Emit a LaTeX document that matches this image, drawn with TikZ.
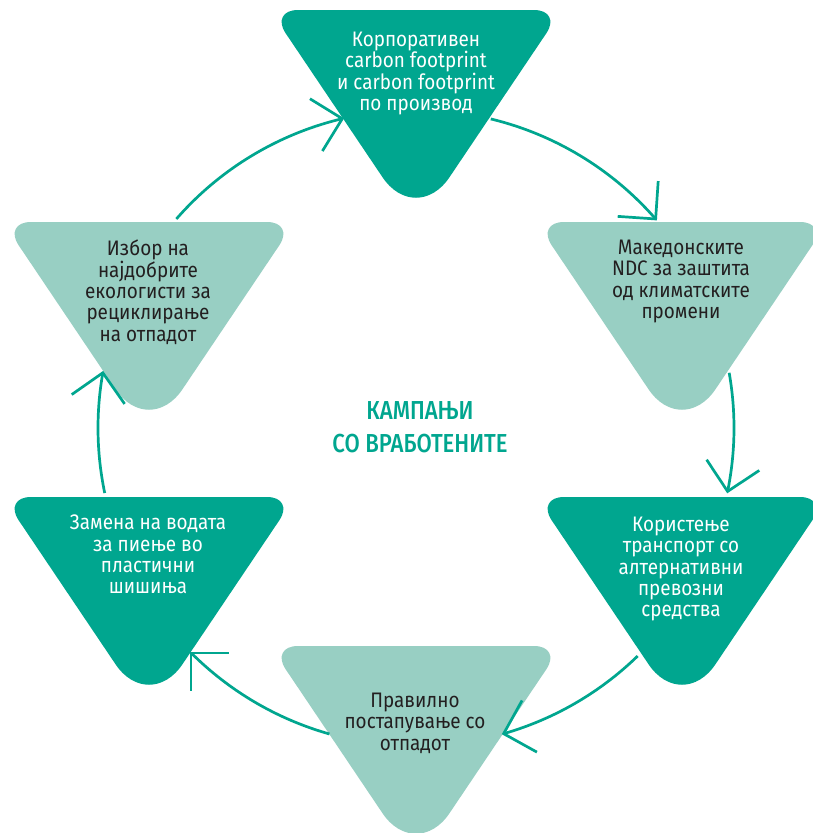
\documentclass[tikz,border=0pt]{standalone}
\usepackage{fontspec}
\setmainfont{Fira Sans}[FakeStretch=0.9]
\newfontfamily\titlefont{Fira Sans Medium}[FakeStretch=0.85]
\usetikzlibrary{calc}
\definecolor{tdark}{HTML}{00A68F}
\definecolor{tlight}{HTML}{98CFC3}
\definecolor{tink}{HTML}{231F20}
\newcommand{\rtri}[4]{%
  \coordinate (#1TL) at (#2-146,#3);
  \coordinate (#1TR) at (#2+146,#3);
  \coordinate (#1B) at (#2,#3+217);
  \coordinate (#1a) at ($(#1TL)!28pt!(#1TR)$);
  \coordinate (#1b) at ($(#1TR)!28pt!(#1TL)$);
  \coordinate (#1c) at ($(#1TR)!28pt!(#1B)$);
  \coordinate (#1d) at ($(#1B)!60pt!(#1TR)$);
  \coordinate (#1e) at ($(#1B)!60pt!(#1TL)$);
  \coordinate (#1f) at ($(#1TL)!28pt!(#1B)$);
  \fill[#4] (#1a) -- (#1b)
    .. controls ($(#1b)!.55!(#1TR)$) and ($(#1c)!.55!(#1TR)$) .. (#1c) -- (#1d)
    .. controls ($(#1d)!.55!(#1B)$) and ($(#1e)!.55!(#1B)$) .. (#1e) -- (#1f)
    .. controls ($(#1f)!.55!(#1TL)$) and ($(#1a)!.55!(#1TL)$) .. (#1a) -- cycle;
}
% arc connector: #1 name, #2 start angle, #3 end angle (tip)
\newcommand{\cycarc}[3]{%
  \coordinate (s#1) at ($(c)+(#2:318)$);
  \coordinate (e#1) at ($(c)+(#3:318)$);
  \draw[cycline] (s#1) arc[start angle=#2, end angle=#3, radius=318];
  \draw[cycline, line join=miter] ($(e#1)+(#3-45:38)$) -- (e#1) -- ($(e#1)+(#3-135:38)$);
}
\tikzset{
  lbl/.style={anchor=north, inner sep=0pt, align=center, font=\fontsize{21}{21.3}\selectfont},
  lbldark/.style={lbl, text=white},
  lbllight/.style={lbl, text=tink},
  cycline/.style={draw=tdark, line width=2.7pt},
}
\begin{document}
\begin{tikzpicture}[x=1pt,y=-1pt]
\useasboundingbox (0,0) rectangle (812,833);
\fill[white] (0,0) rectangle (812,833);
\coordinate (c) at (416,428);
% triangles
\rtri{n1}{416}{10}{tdark}
\rtri{n2}{682}{222}{tlight}
\rtri{n3}{682}{497}{tdark}
\rtri{n4}{416}{646}{tlight}
\rtri{n5}{149}{497}{tdark}
\rtri{n6}{149}{222}{tlight}
% labels
\node[lbldark] (t1) at (416,32) {Корпоративен\\carbon footprint\\и carbon footprint\\по производ};
\node[lbllight] (t2) at (681,240) {Македонските\\NDC за заштита\\од климатските\\промени};
\node[lbldark] (t3) at (681,517) {Користење\\транспорт со\\алтернативни\\превозни\\средства};
\node[lbllight] (t4) at (415,693) {Правилно\\постапување со\\отпадот};
\node[lbldark] (t5) at (148,515) {Замена на водата\\за пиење во\\пластични\\шишиња};
\node[lbllight] (t6) at (148,240) {Избор на\\најдобрите\\екологисти за\\рециклирање\\на отпадот};
\node[anchor=north, inner sep=0pt, align=center, text=tdark,
      font=\titlefont\fontsize{26}{33}\selectfont] (title) at (420,401)
      {КАМПАЊИ\\СО ВРАБОТЕНИТЕ};
% connectors
\cycarc{1}{283.6}{318.9}
\cycarc{2}{-10}{11.5}
\cycarc{3}{45.8}{74}
\cycarc{4}{105.8}{135}
\cycarc{5}{168.2}{190}
\cycarc{6}{221.1}{256.6}
\end{tikzpicture}
\end{document}
